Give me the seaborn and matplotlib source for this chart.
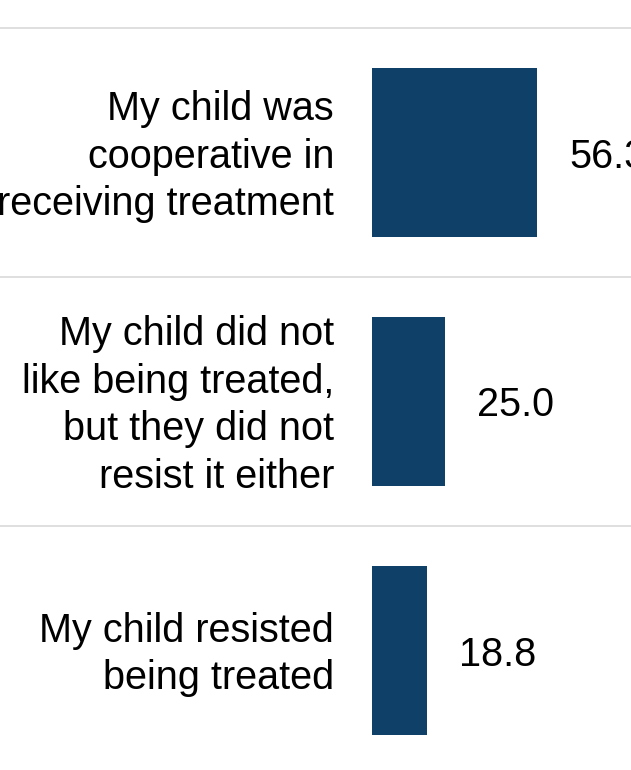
import matplotlib
matplotlib.use("Agg")
import matplotlib.pyplot as plt
import seaborn as sns
import pandas as pd

categories = [
    "My child was\ncooperative in\nreceiving treatment",
    "My child did not\nlike being treated,\nbut they did not\nresist it either",
    "My child resisted\nbeing treated",
]
values = [56.3, 25.0, 18.8]
value_labels = ["56.3", "25.0", "18.8"]

sns.set_theme(style="white")
plt.rcParams["font.family"] = ["Liberation Sans", "DejaVu Sans"]

W, H = 631, 770
fig = plt.figure(figsize=(W / 100, H / 100), dpi=100)
x0 = 372
top = 28
bottom = 775
ax = fig.add_axes([x0 / W, (H - bottom) / H, (W - x0) / W, (bottom - top) / H])

df = pd.DataFrame({"cat": categories, "val": values})
sns.barplot(data=df, y="cat", x="val", orient="h", color="#0F4068",
            saturation=1, width=0.675, linewidth=0, ax=ax)

ax.set_xlim(0, (W - x0) / 2.93)
ax.set_ylim(2.5, -0.5)
ax.set_xlabel("")
ax.set_ylabel("")
ax.set_xticks([])
ax.set_yticks([])
for s in ax.spines.values():
    s.set_visible(False)

dy = -4 * 0.72  # shift text slightly downward (points)

# category labels
for i, c in enumerate(categories):
    ax.annotate(c, xy=(0, i), xycoords=("axes fraction", "data"),
                xytext=(-(x0 - 334) * 0.72, dy), textcoords="offset points",
                ha="right", va="center", fontsize=28.5, linespacing=1.32,
                color="black", annotation_clip=False)

# value labels
for i, (v, lab) in enumerate(zip(values, value_labels)):
    ax.annotate(lab, xy=(v, i), xycoords="data",
                xytext=(23, dy), textcoords="offset points",
                ha="left", va="center", fontsize=28.5, color="black",
                annotation_clip=False)

# separators
for yb in [-0.5, 0.5, 1.5, 2.5]:
    ax.axhline(yb, xmin=-x0 / (W - x0), xmax=1, color="#dcdcdc",
               linewidth=1.3, clip_on=False)

fig.savefig("out.png", dpi=100)
